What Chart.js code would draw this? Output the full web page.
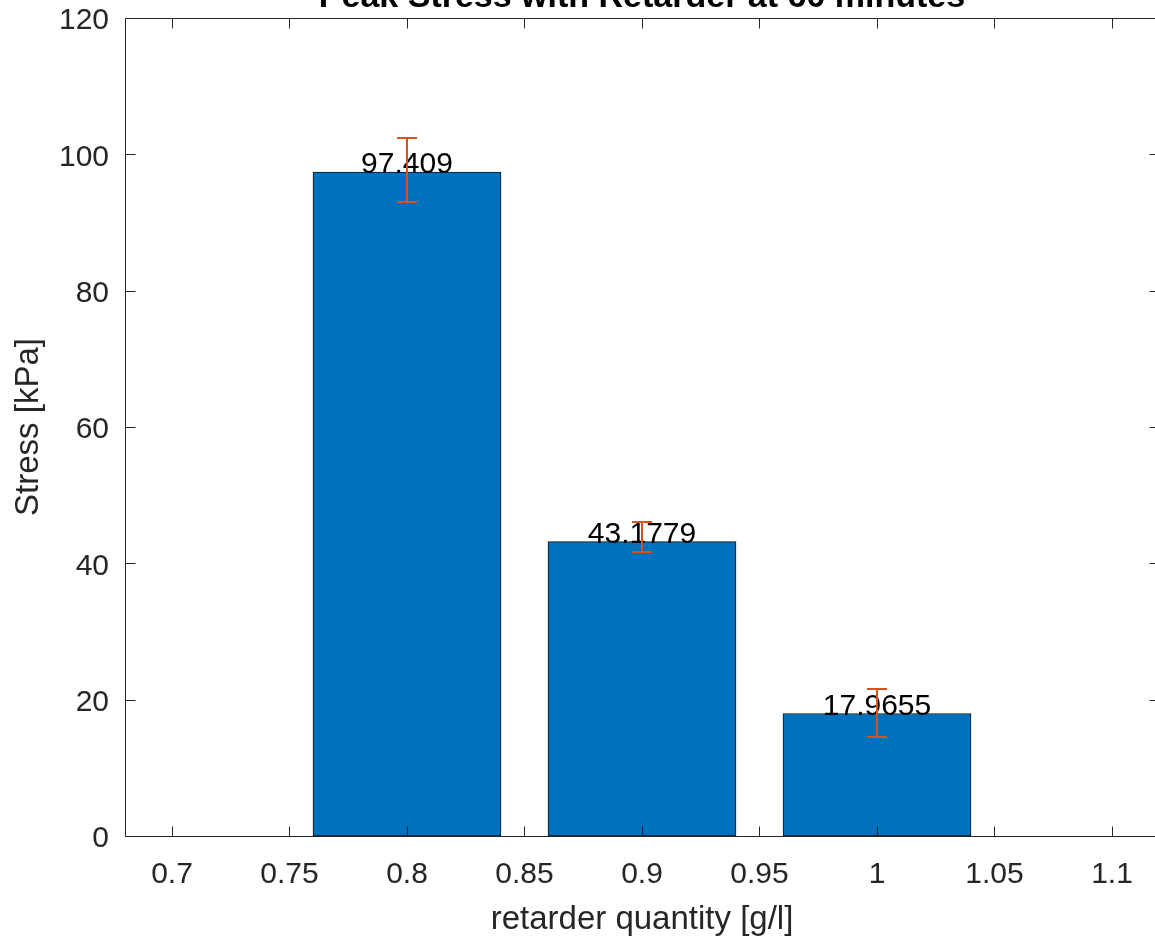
<!DOCTYPE html>
<html><head><meta charset="utf-8">
<script src="https://cdn.jsdelivr.net/npm/chart.js@4/dist/chart.umd.min.js"></script>
<style>html,body{margin:0;padding:0;overflow:hidden;background:#fff}
#wrap{width:1170px;height:940px;position:relative}</style></head>
<body><div id="wrap"><canvas id="c" width="1170" height="940"></canvas></div>
<script>
const chartTitle = 'Peak Stress with Retarder at 60 minutes';
const xTitle = 'retarder quantity [g/l]';
const yTitle = 'Stress [kPa]';
const quantities = [0.8, 0.9, 1.0];
const peakStress = [97.409, 43.1779, 17.9655];
const valueLabels = ['97.409', '43.1779', '17.9655'];
const errLow = [93.0, 41.6, 14.5];
const errHigh = [102.4, 46.0, 21.6];
const xTicks = [0.7, 0.75, 0.8, 0.85, 0.9, 0.95, 1, 1.05, 1.1];
const xTickLabels = ['0.7', '0.75', '0.8', '0.85', '0.9', '0.95', '1', '1.05', '1.1'];
const yTicks = [0, 20, 40, 60, 80, 100, 120];
const yTickLabels = ['0', '20', '40', '60', '80', '100', '120'];
const xLimits = [0.68, 1.12];
const yLimits = [0, 120];

const FONT = '"Liberation Sans", Arial, Helvetica, sans-serif';
const AX = '#262626';

const decorPlugin = {
  id: 'decor',
  afterDatasetsDraw(chart) {
    const ctx = chart.ctx;
    const xs = chart.scales.x, ys = chart.scales.y;
    const a = chart.chartArea;
    // value labels
    ctx.save();
    ctx.font = '30px ' + FONT;
    ctx.fillStyle = '#000';
    ctx.textAlign = 'center';
    ctx.textBaseline = 'alphabetic';
    quantities.forEach((q, i) => {
      ctx.fillText(valueLabels[i], xs.getPixelForValue(q), ys.getPixelForValue(peakStress[i]) + 1);
    });
    ctx.restore();
    // error bars
    ctx.save();
    ctx.strokeStyle = '#D95319';
    ctx.lineWidth = 2;
    quantities.forEach((q, i) => {
      const x = Math.round(xs.getPixelForValue(q));
      const yl = Math.round(ys.getPixelForValue(errLow[i]));
      const yh = Math.round(ys.getPixelForValue(errHigh[i]));
      ctx.beginPath();
      ctx.moveTo(x, yl); ctx.lineTo(x, yh);
      ctx.moveTo(x - 10, yl); ctx.lineTo(x + 10, yl);
      ctx.moveTo(x - 10, yh); ctx.lineTo(x + 10, yh);
      ctx.stroke();
    });
    ctx.restore();
    // axes box and inward ticks
    ctx.save();
    ctx.strokeStyle = AX;
    ctx.lineWidth = 1;
    const L = Math.round(a.left) + 0.5, R = Math.round(a.right) + 0.5;
    const T = Math.round(a.top) + 0.5, B = Math.round(a.bottom) + 0.5;
    ctx.beginPath();
    ctx.rect(L, T, R - L, B - T);
    xTicks.forEach(v => {
      const x = Math.round(xs.getPixelForValue(v)) + 0.5;
      ctx.moveTo(x, B); ctx.lineTo(x, B - 10);
      ctx.moveTo(x, T); ctx.lineTo(x, T + 10);
    });
    yTicks.forEach(v => {
      const y = Math.round(ys.getPixelForValue(v)) + 0.5;
      ctx.moveTo(L, y); ctx.lineTo(L + 10, y);
      ctx.moveTo(R, y); ctx.lineTo(R - 10, y);
    });
    ctx.stroke();
    ctx.restore();
    // title (partly cut off at top)
    ctx.save();
    ctx.font = 'bold 34px ' + FONT;
    ctx.fillStyle = '#000';
    ctx.textAlign = 'center';
    ctx.textBaseline = 'alphabetic';
    ctx.fillText(chartTitle, (a.left + a.right) / 2, 7);
    ctx.restore();
  }
};

new Chart(document.getElementById('c'), {
  type: 'bar',
  data: {
    datasets: [{
      data: quantities.map((q, i) => ({ x: q, y: peakStress[i] })),
      backgroundColor: '#0072BD',
      borderColor: '#111111',
      borderWidth: 1,
      borderSkipped: false,
      barThickness: 'flex',
      categoryPercentage: 1,
      barPercentage: 0.8
    }]
  },
  options: {
    responsive: false,
    animation: false,
    devicePixelRatio: 1,
    layout: { padding: { top: 18, right: 11, left: 0, bottom: 0 } },
    plugins: { legend: { display: false }, tooltip: { enabled: false }, title: { display: false } },
    scales: {
      x: {
        type: 'linear',
        min: xLimits[0], max: xLimits[1],
        offset: false,
        grid: { display: false, offset: false, drawTicks: false, tickLength: 0 },
        border: { display: false },
        afterBuildTicks: s => { s.ticks = xTicks.map(v => ({ value: v })); },
        afterFit: s => { s.height = 104; s.paddingLeft = 0; s.paddingRight = 0; },
        ticks: {
          autoSkip: false, maxRotation: 0, minRotation: 0,
          color: AX, font: { family: FONT, size: 30, lineHeight: 1 }, padding: 24,
          callback: (v, i) => xTickLabels[i]
        },
        title: { display: true, text: xTitle, color: AX, font: { family: FONT, size: 33 }, padding: { top: 0, bottom: 0 } }
      },
      y: {
        min: yLimits[0], max: yLimits[1],
        grid: { display: false, drawTicks: false, tickLength: 0 },
        border: { display: false },
        afterBuildTicks: s => { s.ticks = yTicks.map(v => ({ value: v })); },
        afterFit: s => { s.width = 125; s.paddingTop = 0; s.paddingBottom = 0; },
        ticks: {
          autoSkip: false, color: AX, font: { family: FONT, size: 30, lineHeight: 0.2 }, padding: 16,
          labelOffset: 3,
          callback: (v, i) => yTickLabels[i]
        },
        title: { display: true, text: yTitle, color: AX, font: { family: FONT, size: 33 }, padding: { top: 9, bottom: 9 } }
      }
    }
  },
  plugins: [decorPlugin]
});
</script>
</body></html>
